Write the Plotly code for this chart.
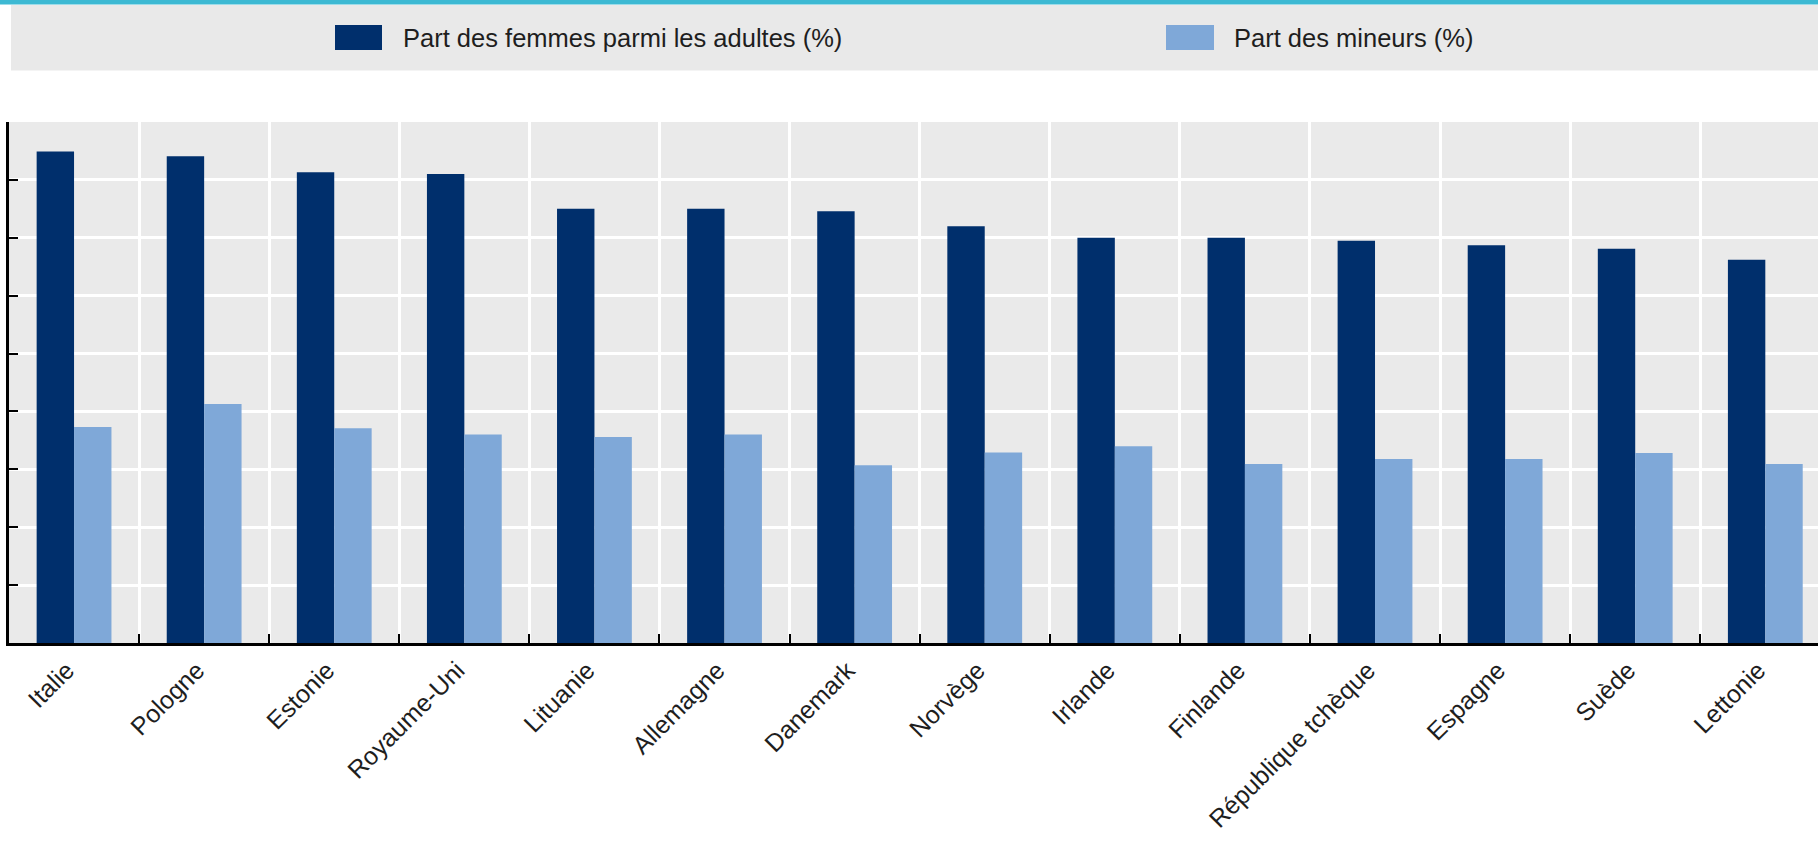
import plotly.graph_objects as go

# ---- data ----
countries = ["Italie", "Pologne", "Estonie", "Royaume-Uni", "Lituanie", "Allemagne",
             "Danemark", "Norvège", "Irlande", "Finlande", "République tchèque",
             "Espagne", "Suède", "Lettonie"]
women_adults = [84.9, 84.1, 81.3, 81.0, 75.0, 75.0, 74.6, 72.0, 70.0, 70.0, 69.5, 68.7, 68.1, 66.2]
minors = [37.3, 41.3, 37.1, 36.0, 35.6, 36.0, 30.7, 32.9, 34.0, 30.9, 31.8, 31.8, 32.8, 30.9]
series_names = ["Part des femmes parmi les adultes (%)", "Part des mineurs (%)"]
y_ticks = [0, 10, 20, 30, 40, 50, 60, 70, 80, 90]

# ---- style ----
W, H = 1818, 843
L, T, B = 9, 122, 200
PW, PH = W - L, H - T - B
DARK = "#002F6C"
LIGHT = "#7FA8D8"
BG = "#EAEAEA"
FONT = "Liberation Sans, Arial, sans-serif"
TXT = "#1E1E1E"


def px_x(p):
    return (p - L) / PW


def px_y(p):
    return (H - B - p) / PH


fig = go.Figure()
fig.add_trace(go.Bar(x=countries, y=women_adults, name=series_names[0],
                     marker=dict(color=DARK, line=dict(width=0))))
fig.add_trace(go.Bar(x=countries, y=minors, name=series_names[1],
                     marker=dict(color=LIGHT, line=dict(width=0))))

shapes = [
    dict(type="rect", xref="paper", yref="paper", x0=px_x(0), x1=px_x(W),
         y0=px_y(0), y1=px_y(4.5), fillcolor="#3DB9D3", line=dict(width=0), layer="above"),
    dict(type="rect", xref="paper", yref="paper", x0=px_x(11), x1=px_x(W),
         y0=px_y(5), y1=px_y(70.5), fillcolor="#E9E9E9", line=dict(width=0), layer="below"),
    dict(type="rect", xref="paper", yref="paper", x0=px_x(335), x1=px_x(382),
         y0=px_y(25), y1=px_y(50), fillcolor=DARK, line=dict(width=0)),
    dict(type="rect", xref="paper", yref="paper", x0=px_x(1166), x1=px_x(1214),
         y0=px_y(25), y1=px_y(50), fillcolor=LIGHT, line=dict(width=0)),
]
annotations = [
    dict(text=series_names[0], xref="paper", yref="paper", x=px_x(401), y=px_y(38),
         xanchor="left", yanchor="middle", showarrow=False,
         font=dict(family=FONT, size=25.5, color=TXT)),
    dict(text=series_names[1], xref="paper", yref="paper", x=px_x(1232), y=px_y(38),
         xanchor="left", yanchor="middle", showarrow=False,
         font=dict(family=FONT, size=25.5, color=TXT)),
]

fig.update_layout(
    width=W, height=H,
    margin=dict(l=L, r=0, t=T, b=B, pad=0),
    paper_bgcolor="white", plot_bgcolor=BG,
    barmode="group", bargap=0.425, bargroupgap=0,
    showlegend=False,
    font=dict(family=FONT, size=25, color=TXT),
    shapes=shapes, annotations=annotations,
    xaxis=dict(type="category", range=[-0.5, -0.5 + 13.905], tickson="boundaries",
               ticks="inside", ticklen=9, tickwidth=2, tickcolor="black",
               showgrid=True, gridcolor="white", gridwidth=2.5,
               showline=True, linecolor="black", linewidth=2.5,
               tickangle=-45, ticklabelshift=-7,
               tickfont=dict(family=FONT, size=25, color=TXT),
               fixedrange=True),
    yaxis=dict(range=[0, 90], tickvals=y_ticks, showticklabels=False,
               ticks="inside", ticklen=9, tickwidth=2, tickcolor="black",
               showgrid=True, gridcolor="white", gridwidth=2.5, zeroline=False,
               showline=True, linecolor="black", linewidth=2.5, fixedrange=True),
)

fig.write_html("out.html", config={"displayModeBar": False},
               post_script="document.body.style.margin='0';document.body.style.overflow='hidden';")
